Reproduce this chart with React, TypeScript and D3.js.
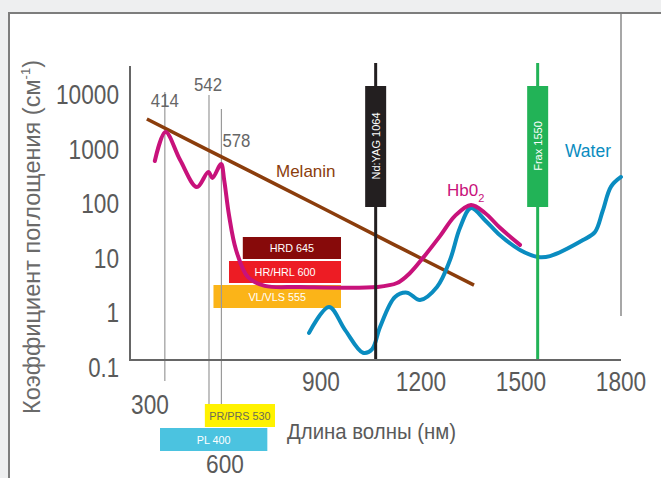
import React from "react";
import * as d3 from "d3";

// ---------- data ----------
const yTickValues = [0.1, 1, 10, 100, 1000, 10000];
const yTickLabels = ["0.1", "1", "10", "100", "1000", "10000"];
const xTickValues = [900, 1200, 1500, 1800];
const xTickLabels = ["900", "1200", "1500", "1800"];

const melaninWl = [362, 600, 900, 1137, 1359];
const melaninAbs = [3630, 627, 88, 16, 3.3];

const hbo2Wl = [385, 416, 458, 507, 540, 552, 577, 586, 600, 623, 662, 717, 831, 1068, 1128, 1167, 1206, 1257, 1302, 1350, 1392, 1437, 1497];
const hbo2Abs = [617, 2090, 650, 206, 389, 302, 545, 277, 63, 14.5, 4.6, 3.2, 3.05, 3.05, 3.6, 5.5, 10.4, 26, 61, 97, 69, 37, 18];

const waterWl = [861, 924, 972, 1026, 1053, 1077, 1122, 1158, 1197, 1248, 1287, 1317, 1350, 1392, 1437, 1497, 1551, 1587, 1686, 1722, 1745, 1770, 1800];
const waterAbs = [0.44, 1.31, 0.5, 0.19, 0.22, 0.56, 2.0, 2.4, 1.76, 3.05, 9.5, 37, 85, 51, 27, 14.5, 10.8, 11.2, 22, 31, 75, 210, 315];

const refWl = [414, 542, 578];
const refLabels = ["414", "542", "578"];

const laserNames = ["Nd:YAG 1064", "Frax 1550"];
const laserWl = [1064, 1550];

const iplNames = ["HRD 645", "HR/HRL 600", "VL/VLS 555", "PR/PRS 530", "PL 400"];
const iplStart = [645, 600, 555, 530, 400];
const iplEnd = [960, 960, 960, 750, 725];

// ---------- styles ----------
const FONT = "'Liberation Sans', Arial, sans-serif";
const C_MEL = "#8b3d0c";
const C_HB = "#c8127b";
const C_WAT = "#0a8cc0";
const laserColors = ["#231f20", "#22b357"];
const iplColors = ["#870a0a", "#ed1c24", "#fbb418", "#fff200", "#4bc3e0"];
const iplTextColors = ["#fff", "#fff", "#fff", "#6b6b55", "#fff"];
const iplTop = [237, 261, 285, 404, 428];
const iplH = [22, 22, 23, 23, 23];
const refTop = [92, 95, 109];
const refBottom = [381, 404, 404];

function charW(t: string, w: number) {
  let s = 0;
  for (const ch of t) s += ch === "." ? w * 0.45 : w;
  return s;
}

export default function App() {
  const W = 661, H = 478;
  const x = d3.scaleLinear().domain([400, 600, 900, 1800]).range([160, 229, 321, 621]);
  const y = d3.scaleLog().domain([0.1, 10000]).range([368, 95]);
  const line = d3
    .line<[number, number]>()
    .x((d) => x(d[0]))
    .y((d) => y(d[1]))
    .curve(d3.curveCatmullRom.alpha(0.5));

  const mel = line(melaninWl.map((w, i) => [w, melaninAbs[i]] as [number, number])) || "";
  const hb = line(hbo2Wl.map((w, i) => [w, hbo2Abs[i]] as [number, number])) || "";
  const wat = line(waterWl.map((w, i) => [w, waterAbs[i]] as [number, number])) || "";

  const axisX0 = 130;
  const axisY = 360;

  return (
    <svg
      width={W}
      height={H}
      style={{ position: "absolute", left: 0, top: 0, background: "#eeeff0" }}
      fontFamily={FONT}
    >
      {/* panel */}
      <rect x={9} y={13} width={W} height={H} fill="#fff" stroke="#7d7d7d" strokeWidth={2} />
      <line x1={621} x2={621} y1={14} y2={316} stroke="#8a8a8a" strokeWidth={1.5} />

      {/* IPL bands */}
      {iplNames.map((n, i) => (
        <g key={n}>
          <rect
            x={x(iplStart[i])}
            y={iplTop[i]}
            width={x(iplEnd[i]) - x(iplStart[i])}
            height={iplH[i]}
            fill={iplColors[i]}
          />
          <text
            x={(x(iplStart[i]) + x(iplEnd[i])) / 2}
            y={iplTop[i] + iplH[i] / 2 + 4}
            textAnchor="middle"
            fontSize={10.8}
            fill={iplTextColors[i]}
          >
            {n}
          </text>
        </g>
      ))}

      {/* reference wavelength lines */}
      {refWl.map((w, i) => (
        <line key={w} x1={x(w)} x2={x(w)} y1={refTop[i]} y2={refBottom[i]} stroke="#9a9a9a" strokeWidth={1.2} />
      ))}
      {refLabels.map((t, i) => {
        const cx = x(refWl[i]);
        const pos = i === 0 ? [cx, 107, "middle"] : i === 1 ? [cx - 1, 91, "middle"] : [cx + 1, 147, "start"];
        return (
          <text
            key={t}
            x={pos[0] as number}
            y={pos[1] as number}
            textAnchor={pos[2] as any}
            fontSize={18}
            fill="#666"
            textLength={28}
            lengthAdjust="spacingAndGlyphs"
          >
            {t}
          </text>
        );
      })}

      {/* axes */}
      <line x1={axisX0} x2={axisX0} y1={66} y2={axisY + 1} stroke="#666" strokeWidth={2} />
      <line x1={axisX0 - 1} x2={621} y1={axisY} y2={axisY} stroke="#666" strokeWidth={2} />

      {yTickValues.map((v, i) => (
        <text
          key={v}
          x={119}
          y={y(v) + 9}
          textAnchor="end"
          fontSize={27}
          fill="#5a5a5a"
          textLength={charW(yTickLabels[i], 12.6)}
          lengthAdjust="spacingAndGlyphs"
        >
          {yTickLabels[i]}
        </text>
      ))}
      {xTickValues.map((v, i) => (
        <text
          key={v}
          x={x(v)}
          y={391}
          textAnchor="middle"
          fontSize={27}
          fill="#5a5a5a"
          textLength={charW(xTickLabels[i], 12.6)}
          lengthAdjust="spacingAndGlyphs"
        >
          {xTickLabels[i]}
        </text>
      ))}
      <text x={150} y={414} textAnchor="middle" fontSize={27} fill="#5a5a5a" textLength={37.8} lengthAdjust="spacingAndGlyphs">
        300
      </text>
      <text x={x(600) - 4} y={473} textAnchor="middle" fontSize={26} fill="#5a5a5a" textLength={37.8} lengthAdjust="spacingAndGlyphs">
        600
      </text>

      <text x={287} y={439} fontSize={22} fill="#5a5a5a" textLength={169} lengthAdjust="spacingAndGlyphs">
        Длина волны (нм)
      </text>

      <text transform="translate(40,237) rotate(-90)" textAnchor="middle" fontSize={23.5} fill="#6a6a6a">
        Коэффициент поглощения (см
        <tspan fontSize={13} dy={-10}>-1</tspan>
        <tspan dy={10}>)</tspan>
      </text>

      {/* curves */}
      <path d={mel} fill="none" stroke={C_MEL} strokeWidth={3.5} />
      <path d={wat} fill="none" stroke={C_WAT} strokeWidth={4} strokeLinecap="round" />
      <path d={hb} fill="none" stroke={C_HB} strokeWidth={4} strokeLinecap="round" />

      {/* lasers */}
      {laserNames.map((n, i) => {
        const lx = x(laserWl[i]);
        return (
          <g key={n}>
            <line x1={lx} x2={lx} y1={63} y2={axisY - 1} stroke={laserColors[i]} strokeWidth={3} />
            <rect x={lx - 10.5} y={86} width={21} height={121} fill={laserColors[i]} />
            <text
              transform={`translate(${lx + 4},146) rotate(-90)`}
              textAnchor="middle"
              fontSize={11}
              fill="#fff"
            >
              {n}
            </text>
          </g>
        );
      })}

      {/* series labels */}
      <text x={276} y={177} fontSize={17} fill={C_MEL}>
        Melanin
      </text>
      <text x={565} y={157} fontSize={17.5} fill={C_WAT}>
        Water
      </text>
      <text x={447} y={196} fontSize={17} fill={C_HB}>
        Hb0
        <tspan fontSize={11} dy={6}>2</tspan>
      </text>
    </svg>
  );
}
